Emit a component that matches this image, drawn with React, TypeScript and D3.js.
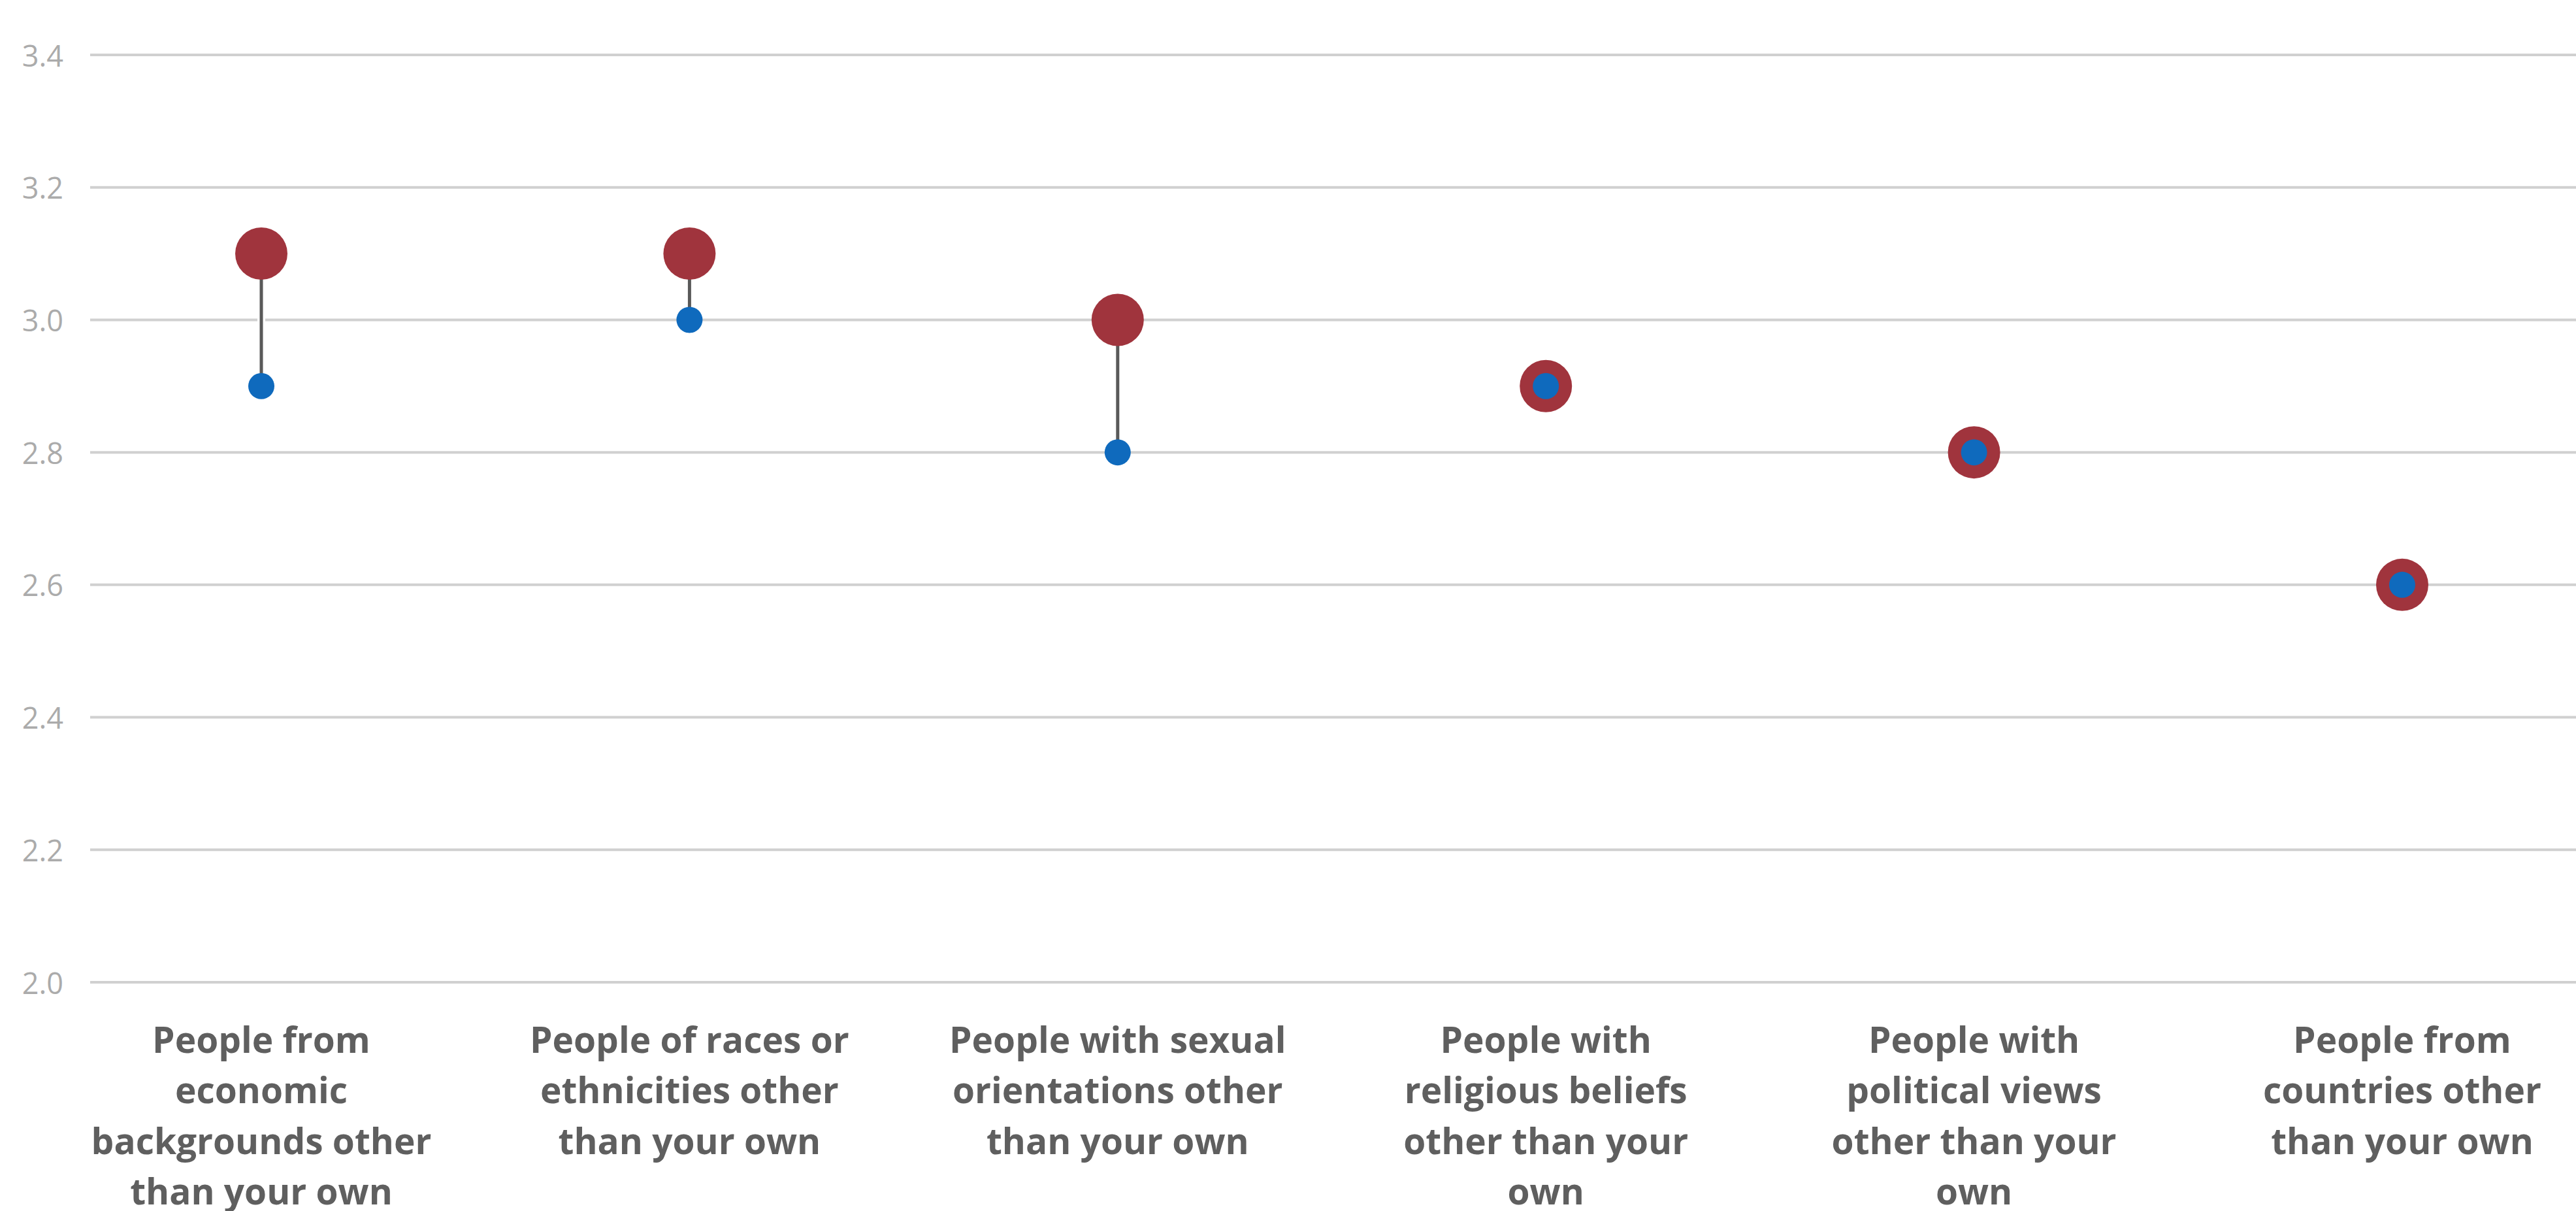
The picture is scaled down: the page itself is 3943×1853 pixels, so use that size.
import React from "react";
import * as d3 from "d3";

const categories: string[][] = [
  ["People from", "economic", "backgrounds other", "than your own"],
  ["People of races or", "ethnicities other", "than your own"],
  ["People with sexual", "orientations other", "than your own"],
  ["People with", "religious beliefs", "other than your", "own"],
  ["People with", "political views", "other than your", "own"],
  ["People from", "countries other", "than your own"],
];
const categoryKeys = ["economic", "races", "sexual", "religious", "political", "countries"];
const highValues = [3.1, 3.1, 3.0, 2.9, 2.8, 2.6];
const lowValues = [2.9, 3.0, 2.8, 2.9, 2.8, 2.6];
const yTicks = [2.0, 2.2, 2.4, 2.6, 2.8, 3.0, 3.2, 3.4];

const W = 3943;
const H = 1853;

export default function App() {
  const x = d3.scalePoint<string>().domain(categoryKeys).range([400, 3677]).padding(0);
  const y = d3.scaleLinear().domain([2.0, 3.4]).range([1503, 84]);
  const gridLeft = 138;
  const gridRight = W;

  return (
    <svg
      width={W}
      height={H}
      style={{ position: "absolute", left: 0, top: 0, background: "#fff" }}
    >
      <rect x={0} y={0} width={W} height={H} fill="#fff" />
      {yTicks.map((t) => (
        <g key={t}>
          <line
            x1={gridLeft}
            x2={gridRight}
            y1={y(t)}
            y2={y(t)}
            stroke="#D0D0D0"
            strokeWidth={4}
          />
          <text
            x={97}
            y={y(t)}
            textAnchor="end"
            dominantBaseline="central"
            fontFamily="'Open Sans', sans-serif"
            fontSize={45}
            fill="#ABABAB"
          >
            {t.toFixed(1)}
          </text>
        </g>
      ))}
      {categoryKeys.map((k, i) => {
        const cx = x(k) as number;
        const yh = y(highValues[i]);
        const yl = y(lowValues[i]);
        return (
          <g key={k}>
            {highValues[i] !== lowValues[i] && (
              <>
                <line x1={cx} x2={cx} y1={yh} y2={yl} stroke="#fff" strokeWidth={12} />
                <line x1={cx} x2={cx} y1={yh} y2={yl} stroke="#595959" strokeWidth={5} />
              </>
            )}
            <circle cx={cx} cy={yh} r={40} fill="#A0343D" />
            <circle cx={cx} cy={yl} r={20} fill="#0F6ABD" />
          </g>
        );
      })}
      {categoryKeys.map((k, i) => (
        <text
          key={k + "-label"}
          x={x(k) as number}
          textAnchor="middle"
          fontFamily="'Open Sans', sans-serif"
          fontWeight={700}
          fontSize={55}
          fill="#5F5F5F"
        >
          {categories[i].map((line, j) => (
            <tspan key={j} x={x(k) as number} y={1611 + j * 77.3}>
              {line}
            </tspan>
          ))}
        </text>
      ))}
    </svg>
  );
}
